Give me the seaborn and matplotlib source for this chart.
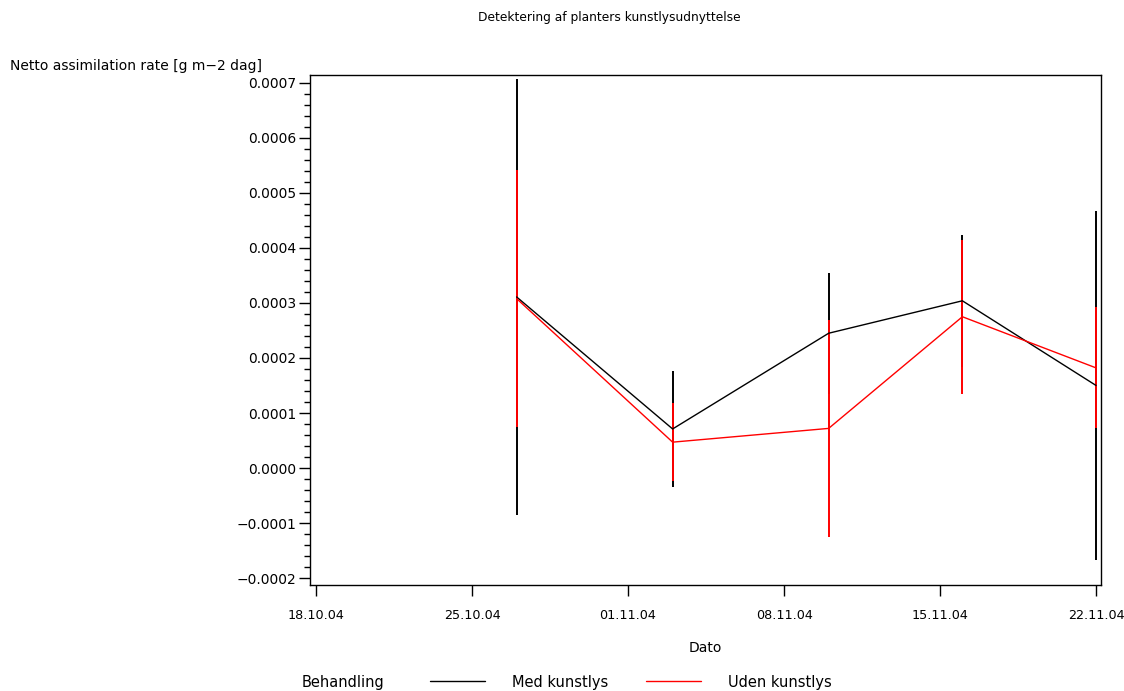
import matplotlib
matplotlib.use("Agg")
import matplotlib.pyplot as plt
import matplotlib.dates as mdates
from matplotlib.ticker import FuncFormatter, MultipleLocator, AutoMinorLocator
from matplotlib.lines import Line2D
import seaborn as sns
import pandas as pd
import numpy as np

dates = ["2004-10-27", "2004-11-03", "2004-11-10", "2004-11-16", "2004-11-22"]
med_mean = [0.000311, 0.000071, 0.000245, 0.000304, 0.000150]
med_err = [0.000396, 0.000106, 0.000110, 0.000120, 0.000318]
uden_mean = [0.000308, 0.000047, 0.000072, 0.000275, 0.000182]
uden_err = [0.000233, 0.000071, 0.000197, 0.000140, 0.000110]
groups = ["Med kunstlys", "Uden kunstlys"]
colors = {"Med kunstlys": "black", "Uden kunstlys": "red"}
xtick_labels = ["18.10.04", "25.10.04", "01.11.04", "08.11.04", "15.11.04", "22.11.04"]

sns.set_style("ticks")
plt.rcParams["font.family"] = ["DejaVu Sans"]
plt.rcParams["text.color"] = "black"
plt.rcParams["axes.labelcolor"] = "black"
plt.rcParams["xtick.color"] = "black"
plt.rcParams["ytick.color"] = "black"

x = pd.to_datetime(dates)
df = pd.DataFrame({
    "Dato": list(x) * 2,
    "value": med_mean + uden_mean,
    "err": med_err + uden_err,
    "Behandling": [groups[0]] * len(dates) + [groups[1]] * len(dates),
})

fig = plt.figure(figsize=(11.24, 6.91), dpi=100)
ax = fig.add_axes([310 / 1124, 1 - 585 / 691, (1101 - 310) / 1124, (585 - 75) / 691])

for g in groups:
    sub = df[df["Behandling"] == g]
    ax.vlines(sub["Dato"], sub["value"] - sub["err"], sub["value"] + sub["err"],
              color=colors[g], lw=1.4, zorder=2)

sns.lineplot(data=df, x="Dato", y="value", hue="Behandling", palette=colors,
             legend=False, ax=ax, lw=1.0, zorder=3)

tick_dates = pd.to_datetime(["2004-10-18", "2004-10-25", "2004-11-01",
                             "2004-11-08", "2004-11-15", "2004-11-22"])
ax.set_xticks(mdates.date2num(tick_dates))
ax.set_xticklabels(xtick_labels)
x0 = mdates.date2num(pd.Timestamp("2004-10-18"))
ax.set_xlim(x0 - 0.27, x0 + 35.22)
ax.set_ylim(-0.0002127, 0.0007145)
ax.yaxis.set_major_locator(MultipleLocator(0.0001))
ax.yaxis.set_minor_locator(AutoMinorLocator(5))

def yfmt(v, pos):
    if abs(v) < 1e-12:
        v = 0.0
    return f"{v:.4f}".replace("-", "\u2212")

ax.yaxis.set_major_formatter(FuncFormatter(yfmt))
ax.tick_params(axis="both", which="major", length=8, width=1, labelsize=10, colors="black", pad=2)
ax.tick_params(axis="y", which="minor", length=4, width=1)
ax.tick_params(axis="x", pad=9, labelsize=9.2)
for s in ax.spines.values():
    s.set_visible(True)
    s.set_color("black")
    s.set_linewidth(1)
ax.set_xlabel("")
ax.set_ylabel("")
ax.grid(False)

fig.text(609 / 1124, 1 - 18 / 691, "Detektering af planters kunstlysudnyttelse",
         ha="center", va="center", fontsize=8.8)
fig.text(10 / 1124, 1 - 66 / 691, "Netto assimilation rate [g m\u22122 dag]",
         ha="left", va="center", fontsize=10)
fig.text(705 / 1124, 1 - 648 / 691, "Dato", ha="center", va="center", fontsize=10)
fig.text(302 / 1124, 1 - 682 / 691, "Behandling", ha="left", va="center", fontsize=10.5)

handles = [Line2D([0], [0], color=colors[g], lw=1.0) for g in groups]
fig.legend(handles, groups, loc="center left", bbox_to_anchor=(430 / 1124, 1 - 682 / 691),
           ncol=2, frameon=False, fontsize=10.5, handlelength=3.8, handletextpad=1.8,
           columnspacing=2.6, borderaxespad=0, borderpad=0)

fig.savefig("out.png", dpi=100)
